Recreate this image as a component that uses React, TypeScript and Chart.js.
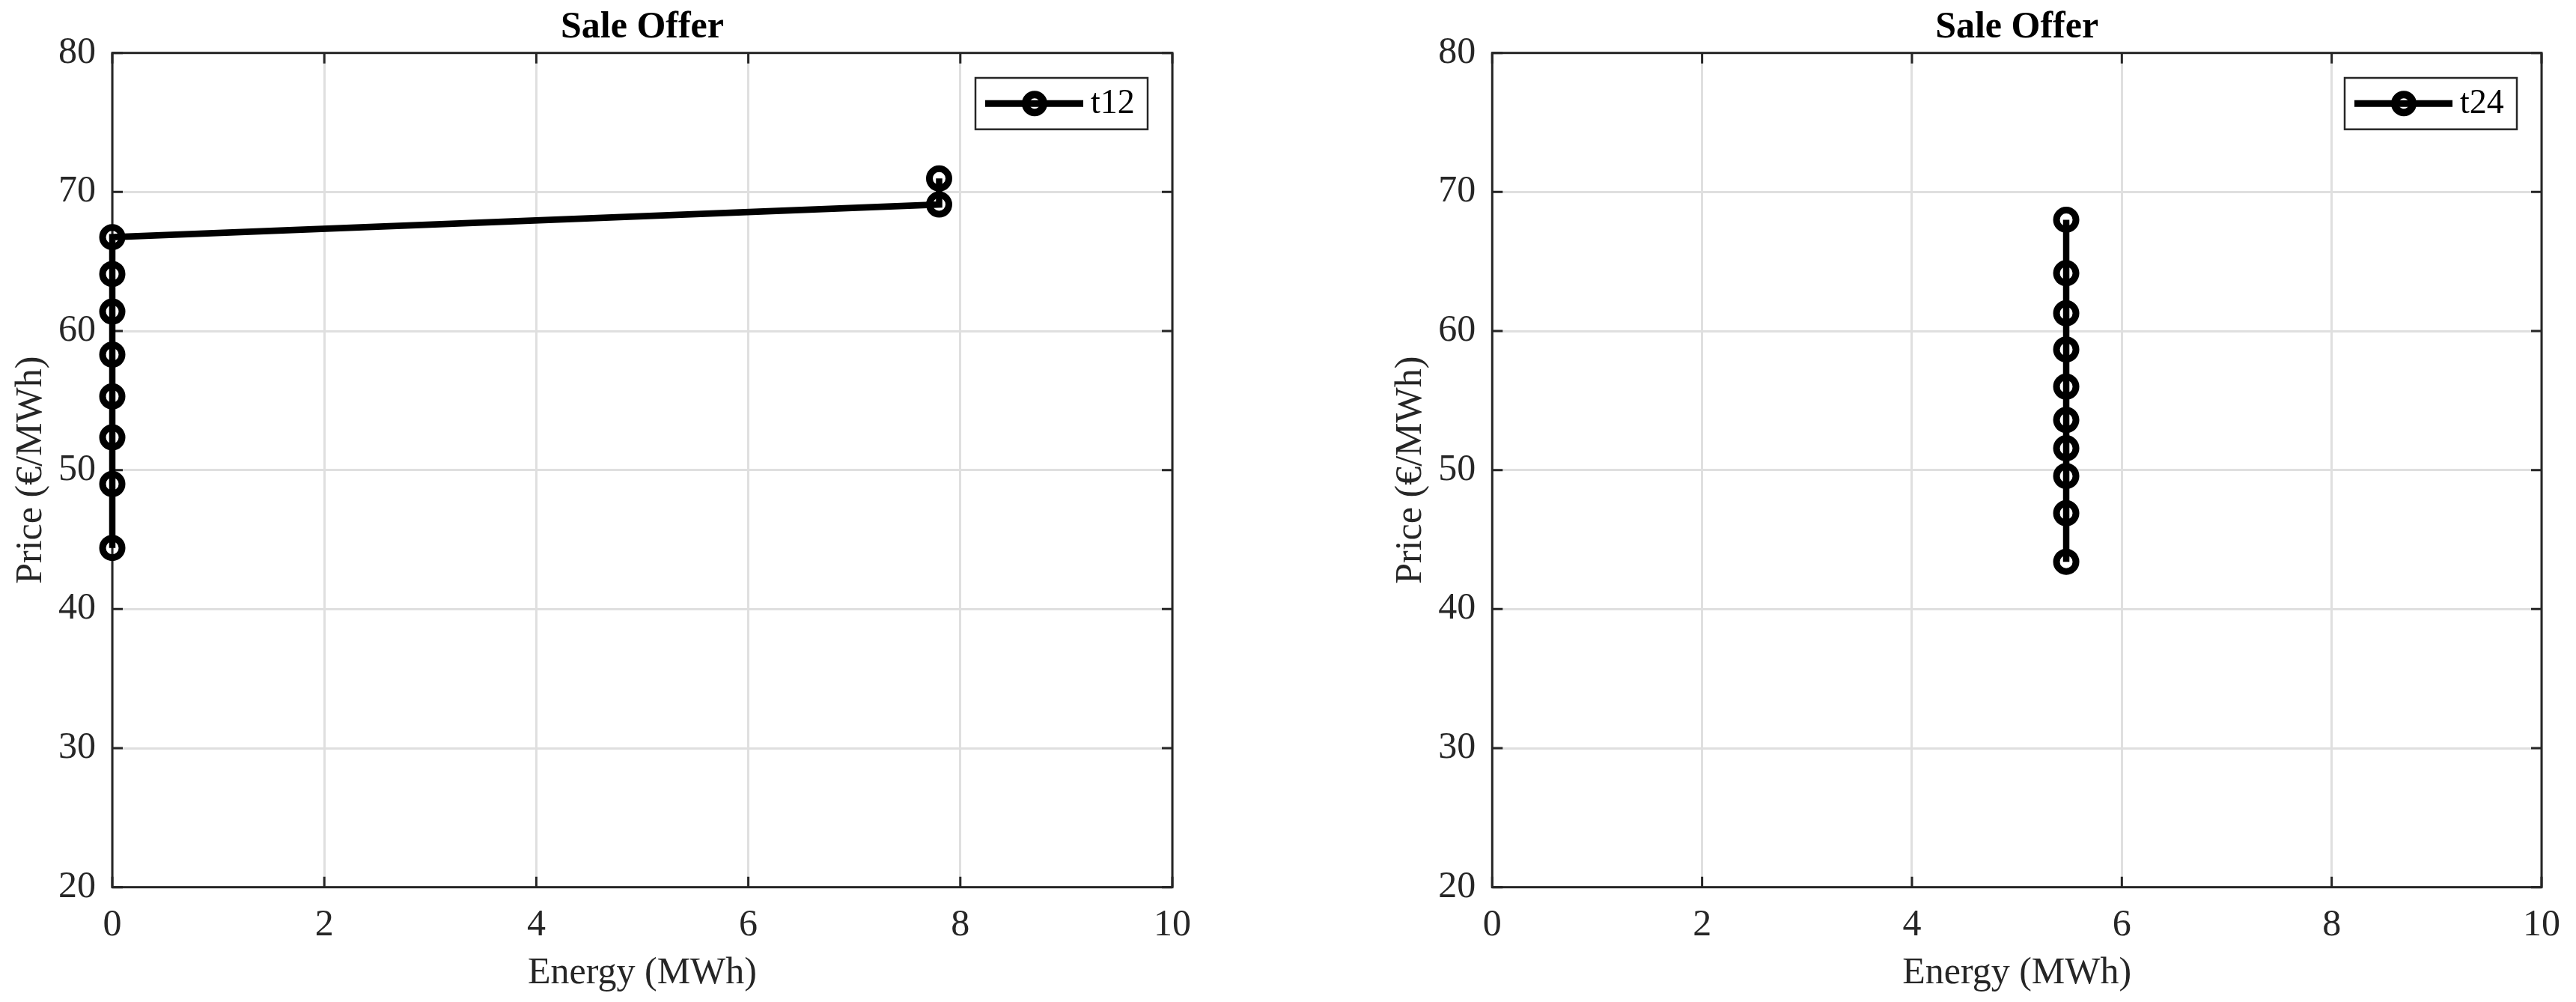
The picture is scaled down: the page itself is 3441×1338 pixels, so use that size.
import React, { useEffect, useRef } from "react";
import { Chart, registerables } from "chart.js";

Chart.register(...registerables);

// ---------- data ----------
const energyTicks = [0, 2, 4, 6, 8, 10];
const priceTicks = [20, 30, 40, 50, 60, 70, 80];

const t12Energy = [0, 0, 0, 0, 0, 0, 0, 0, 7.8, 7.8];
const t12Price = [44.4, 49.0, 52.35, 55.3, 58.3, 61.4, 64.1, 66.75, 69.1, 70.97];

const t24Energy = [5.47, 5.47, 5.47, 5.47, 5.47, 5.47, 5.47, 5.47, 5.47, 5.47];
const t24Price = [43.4, 46.9, 49.57, 51.57, 53.6, 56.0, 58.67, 61.28, 64.16, 68.0];

const chartTitle = "Sale Offer";
const xAxisTitle = "Energy (MWh)";
const yAxisTitle = "Price (€/MWh)";
const leftLabel = "t12";
const rightLabel = "t24";

// ---------- style ----------
const FONT = '"Liberation Serif", "Times New Roman", serif';
const AXIS_COLOR = "#262626";
const GRID_COLOR = "#dfdfdf";
const CANVAS_H = 1338;
const PLOT_TOP = 70.7;
const PLOT_BOTTOM = 1184.7;

const matlabFrame = {
  id: "matlabFrame",
  beforeDatasetsDraw(chart: any) {
    const { ctx, chartArea: a, scales } = chart;
    ctx.save();
    ctx.strokeStyle = AXIS_COLOR;
    ctx.lineWidth = 3;
    ctx.lineCap = "butt";
    ctx.beginPath();
    const tl = 14;
    scales.x.ticks.forEach((t: any) => {
      const px = scales.x.getPixelForValue(t.value);
      ctx.moveTo(px, a.bottom);
      ctx.lineTo(px, a.bottom - tl);
      ctx.moveTo(px, a.top);
      ctx.lineTo(px, a.top + tl);
    });
    scales.y.ticks.forEach((t: any) => {
      const py = scales.y.getPixelForValue(t.value);
      ctx.moveTo(a.left, py);
      ctx.lineTo(a.left + tl, py);
      ctx.moveTo(a.right, py);
      ctx.lineTo(a.right - tl, py);
    });
    ctx.stroke();
    ctx.lineJoin = "miter";
    ctx.strokeRect(a.left, a.top, a.right - a.left, a.bottom - a.top);
    ctx.restore();
  },
  afterDraw(chart: any, _args: any, opts: any) {
    const { ctx, chartArea: a } = chart;
    ctx.save();
    // title
    ctx.fillStyle = "#000";
    ctx.font = `bold 50px ${FONT}`;
    ctx.textAlign = "center";
    ctx.textBaseline = "alphabetic";
    ctx.fillText(opts.title || "", (a.left + a.right) / 2, 50);

    // legend (inside, top-right)
    const ds = chart.data.datasets[0];
    const bw = 230;
    const bh = 68.7;
    const bx = a.right - 33 - bw;
    const by = a.top + 33.3;
    ctx.fillStyle = "#fff";
    ctx.fillRect(bx, by, bw, bh);
    ctx.strokeStyle = AXIS_COLOR;
    ctx.lineWidth = 2.5;
    ctx.strokeRect(bx, by, bw, bh);
    const cy = by + bh / 2;
    ctx.strokeStyle = ds.borderColor;
    ctx.lineWidth = 9;
    ctx.beginPath();
    ctx.moveTo(bx + 13, cy);
    ctx.lineTo(bx + 144, cy);
    ctx.stroke();
    ctx.lineWidth = 10;
    ctx.beginPath();
    ctx.arc(bx + 79, cy, 12, 0, Math.PI * 2);
    ctx.stroke();
    ctx.fillStyle = "#000";
    ctx.font = `46px ${FONT}`;
    ctx.textAlign = "left";
    ctx.textBaseline = "middle";
    ctx.fillText(ds.label, bx + 154, cy + 1);
    ctx.restore();
  },
};

type PanelProps = {
  left: number;
  width: number;
  plotLeft: number;
  plotRight: number;
  energy: number[];
  price: number[];
  label: string;
};

function Panel({ left, width, plotLeft, plotRight, energy, price, label }: PanelProps) {
  const ref = useRef<HTMLCanvasElement | null>(null);
  useEffect(() => {
    if (!ref.current) return;
    const points = energy.map((e, i) => ({ x: e, y: price[i] }));
    const chart = new Chart(ref.current, {
      type: "scatter",
      data: {
        datasets: [
          {
            label,
            data: points,
            showLine: true,
            borderColor: "#000",
            borderWidth: 8.5,
            pointRadius: 13,
            pointBorderWidth: 9,
            pointBorderColor: "#000",
            pointBackgroundColor: "rgba(0,0,0,0)",
            pointStyle: "circle",
            clip: false as any,
          } as any,
        ],
      },
      options: {
        responsive: false,
        animation: false,
        devicePixelRatio: 1,
        layout: {
          padding: { left: 0, top: PLOT_TOP, right: width - plotRight, bottom: 0 },
        },
        plugins: {
          legend: { display: false },
          tooltip: { enabled: false },
          title: { display: false },
          matlabFrame: { title: chartTitle },
        } as any,
        scales: {
          x: {
            type: "linear",
            min: energyTicks[0],
            max: energyTicks[energyTicks.length - 1],
            afterBuildTicks: (s: any) => {
              s.ticks = energyTicks.map((v) => ({ value: v }));
            },
            afterFit: (s: any) => {
              s.height = CANVAS_H - PLOT_BOTTOM;
            },
            ticks: {
              color: AXIS_COLOR,
              font: { family: FONT, size: 50 },
              padding: 21,
              maxRotation: 0,
              autoSkip: false,
            },
            grid: { color: GRID_COLOR, lineWidth: 3, drawTicks: false },
            border: { display: false },
            title: {
              display: true,
              text: xAxisTitle,
              color: AXIS_COLOR,
              font: { family: FONT, size: 50 },
              padding: { top: 0, bottom: 8 },
            },
          },
          y: {
            type: "linear",
            min: priceTicks[0],
            max: priceTicks[priceTicks.length - 1],
            afterBuildTicks: (s: any) => {
              s.ticks = priceTicks.map((v) => ({ value: v }));
            },
            afterFit: (s: any) => {
              s.width = plotLeft;
            },
            ticks: {
              color: AXIS_COLOR,
              font: { family: FONT, size: 50 },
              padding: 22,
              autoSkip: false,
            },
            grid: { color: GRID_COLOR, lineWidth: 3, drawTicks: false },
            border: { display: false },
            title: {
              display: true,
              text: yAxisTitle,
              color: AXIS_COLOR,
              font: { family: FONT, size: 50 },
              padding: { top: 12, bottom: 0 },
            },
          },
        },
      } as any,
      plugins: [matlabFrame as any],
    });
    return () => chart.destroy();
  }, []);
  return (
    <canvas
      ref={ref}
      width={width}
      height={CANVAS_H}
      style={{ position: "absolute", left, top: 0, width, height: CANVAS_H }}
    />
  );
}

export default function App() {
  return (
    <div
      style={{
        position: "absolute",
        left: 0,
        top: 0,
        width: 3441,
        height: CANVAS_H,
        background: "#fff",
        overflow: "hidden",
      }}
    >
      <Panel left={0} width={1720} plotLeft={150} plotRight={1566} energy={t12Energy} price={t12Price} label={leftLabel} />
      <Panel left={1843} width={1598} plotLeft={150.3} plotRight={1566} energy={t24Energy} price={t24Price} label={rightLabel} />
    </div>
  );
}
